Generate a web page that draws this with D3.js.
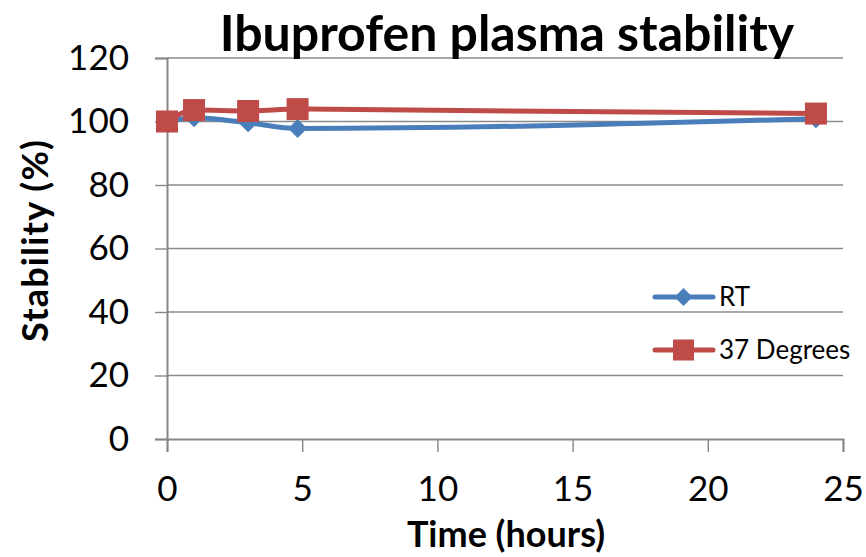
<!DOCTYPE html>
<html>
<head>
<meta charset="utf-8">
<script src="https://cdn.jsdelivr.net/npm/d3@7"></script>
<style>
  html, body { margin: 0; padding: 0; background: #fff; }
  svg { display: block; }
  text { font-family: Lato, "Open Sans", sans-serif; fill: #000; }
</style>
</head>
<body>
<svg id="chart" width="866" height="557"></svg>
<script>
// Sampling times (hours)
const timesRT = [0, 1, 3, 4.83, 24];
const times37 = [0, 1, 3, 4.83, 24];
// Remaining drug (%) at each time
const valuesRT = [100, 101.2, 99.6, 97.8, 100.9];
const values37 = [100, 103.6, 103.3, 103.9, 102.5];

const xTicks = [0, 5, 10, 15, 20, 25];
const yTicks = [0, 20, 40, 60, 80, 100, 120];
const seriesNames = ["RT", "37 Degrees"];
const seriesColors = ["#4A7EBB", "#BE4B48"];

const svg = d3.select("#chart");
const margin = { left: 167, right: 23, top: 58, bottom: 118 };
const W = 866, H = 557;

const x = d3.scaleLinear().domain([0, 25]).range([margin.left, W - margin.right]);
const y = d3.scaleLinear().domain([0, 120]).range([H - margin.bottom, margin.top]);

// Horizontal gridlines
svg.append("g")
  .selectAll("line")
  .data(yTicks.filter(d => d !== 0))
  .join("line")
  .attr("x1", x(0)).attr("x2", x(25))
  .attr("y1", d => y(d)).attr("y2", d => y(d))
  .attr("stroke", "#8a8a8a").attr("stroke-width", 1.3);

// Y axis
const yAxis = svg.append("g")
  .attr("transform", `translate(${x(0)},0)`)
  .call(d3.axisLeft(y).tickValues(yTicks).tickSize(12).tickPadding(26));
yAxis.select(".domain").attr("stroke", "#878787").attr("stroke-width", 2);
yAxis.selectAll(".tick line").attr("stroke", "#878787").attr("stroke-width", 1.4);
yAxis.selectAll(".tick text")
  .style("font-size", "35px").style("font-family", "Lato, sans-serif");

// X axis
const xAxis = svg.append("g")
  .attr("transform", `translate(0,${y(0)})`)
  .call(d3.axisBottom(x).tickValues(xTicks).tickSize(13).tickPadding(24));
xAxis.select(".domain").attr("stroke", "#878787").attr("stroke-width", 2);
xAxis.selectAll(".tick line").attr("stroke", "#878787").attr("stroke-width", 1.4);
xAxis.selectAll(".tick text")
  .style("font-size", "35px").style("font-family", "Lato, sans-serif");

// Series
const series = [
  { name: seriesNames[0], t: timesRT, v: valuesRT, color: seriesColors[0], marker: "diamond" },
  { name: seriesNames[1], t: times37, v: values37, color: seriesColors[1], marker: "square" }
];

const line = d3.line()
  .x(d => x(d[0])).y(d => y(d[1]))
  .curve(d3.curveMonotoneX);

function drawMarker(g, kind, cx, cy, color, size) {
  if (kind === "square") {
    const h = size / 2;
    g.append("rect")
      .attr("x", cx - h).attr("y", cy - h)
      .attr("width", size).attr("height", size)
      .attr("fill", color);
  } else {
    const r = size / 2;
    g.append("path")
      .attr("d", `M${cx},${cy - r}L${cx + r},${cy}L${cx},${cy + r}L${cx - r},${cy}Z`)
      .attr("fill", color);
  }
}

series.forEach(s => {
  const pts = s.t.map((t, i) => [t, s.v[i]]);
  svg.append("path")
    .attr("d", line(pts))
    .attr("fill", "none")
    .attr("stroke", s.color)
    .attr("stroke-width", 5)
    .attr("stroke-linecap", "round");
  const mg = svg.append("g");
  pts.forEach(p => drawMarker(mg, s.marker, x(p[0]), y(p[1]), s.color, s.marker === "square" ? 22 : 19));
});

// Legend
const legendY = [297, 350];
series.forEach((s, i) => {
  const g = svg.append("g");
  g.append("line")
    .attr("x1", 655).attr("x2", 713)
    .attr("y1", legendY[i]).attr("y2", legendY[i])
    .attr("stroke", s.color).attr("stroke-width", 5)
    .attr("stroke-linecap", "round");
  drawMarker(g, s.marker, 683.5, legendY[i], s.color, s.marker === "square" ? 21 : 18);
  g.append("text")
    .attr("x", 719).attr("y", legendY[i] + 9)
    .style("font-size", "26px")
    .text(s.name);
});

// Title
svg.append("text")
  .attr("x", 507).attr("y", 51)
  .attr("text-anchor", "middle")
  .style("font-size", "50px").style("font-weight", "bold")
  .text("Ibuprofen plasma stability");

// Axis titles
svg.append("text")
  .attr("x", 506).attr("y", 547)
  .attr("text-anchor", "middle")
  .style("font-size", "36px").style("font-weight", "bold")
  .text("Time (hours)");

svg.append("text")
  .attr("transform", "translate(48,241) rotate(-90)")
  .attr("text-anchor", "middle")
  .style("font-size", "36px").style("font-weight", "bold")
  .attr("textLength", 202).attr("lengthAdjust", "spacing")
  .text("Stability (%)");
</script>
</body>
</html>
